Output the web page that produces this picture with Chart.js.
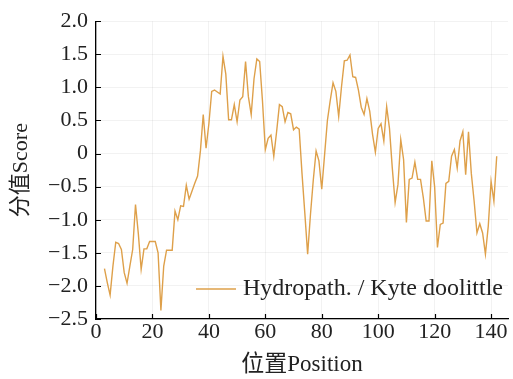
<!DOCTYPE html>
<html>
<head>
<meta charset="utf-8">
<script src="https://cdn.jsdelivr.net/npm/chart.js@4/dist/chart.umd.min.js"></script>
<style>
  html, body { margin: 0; padding: 0; background: #fff; }
  #wrap { width: 513px; height: 379px; }
</style>
</head>
<body>
<div id="wrap"><canvas id="myChart" width="513" height="379"></canvas></div>
<script>
// Kyte-Doolittle hydropathy values
const positions = [
  3, 4, 5, 6, 7, 8, 9, 10, 11, 12, 13, 14, 15, 16, 17, 18, 19, 20, 21, 22,
  23, 24, 25, 26, 27, 28, 29, 30, 31, 32, 33, 34, 35, 36, 37, 38, 39, 40, 41, 42,
  43, 44, 45, 46, 47, 48, 49, 50, 51, 52, 53, 54, 55, 56, 57, 58, 59, 60, 61, 62,
  63, 64, 65, 66, 67, 68, 69, 70, 71, 72, 73, 74, 75, 76, 77, 78, 79, 80, 81, 82,
  83, 84, 85, 86, 87, 88, 89, 90, 91, 92, 93, 94, 95, 96, 97, 98, 99, 100, 101, 102,
  103, 104, 105, 106, 107, 108, 109, 110, 111, 112, 113, 114, 115, 116, 117, 118, 119, 120, 121, 122,
  123, 124, 125, 126, 127, 128, 129, 130, 131, 132, 133, 134, 135, 136, 137, 138, 139, 140, 141, 142
];
const scores = [
  -1.74, -1.95, -2.14, -1.7, -1.34, -1.36, -1.45, -1.8, -1.96, -1.7, -1.45, -0.77, -1.21, -1.75, -1.44, -1.44, -1.33, -1.33, -1.33, -1.5,
  -2.37, -1.7, -1.46, -1.46, -1.46, -0.87, -1.0, -0.79, -0.8, -0.48, -0.69, -0.57, -0.45, -0.34, 0.04, 0.59, 0.08, 0.45, 0.94, 0.96,
  0.93, 0.9, 1.47, 1.2, 0.51, 0.51, 0.74, 0.48, 0.81, 0.86, 1.39, 0.86, 0.59, 1.13, 1.43, 1.39, 0.79, 0.06, 0.23, 0.28,
  -0.04, 0.33, 0.74, 0.71, 0.48, 0.62, 0.6, 0.36, 0.4, 0.37, -0.3, -0.9, -1.52, -0.92, -0.4, 0.04, -0.11, -0.54, -0.02, 0.5,
  0.8, 1.07, 0.94, 0.56, 1.01, 1.4, 1.41, 1.49, 1.16, 1.15, 0.96, 0.7, 0.59, 0.83, 0.64, 0.29, 0.02, 0.38, 0.45, 0.19,
  0.71, 0.38, -0.22, -0.74, -0.47, 0.21, -0.09, -1.04, -0.39, -0.37, -0.13, -0.39, -0.39, -0.67, -1.02, -1.02, -0.11, -0.5, -1.42, -1.07,
  -1.05, -0.45, -0.42, -0.04, 0.06, -0.22, 0.19, 0.33, -0.32, 0.33, -0.3, -0.72, -1.2, -1.06, -1.2, -1.52, -1.1, -0.42, -0.72, -0.04
];
const xTicks = [0, 20, 40, 60, 80, 100, 120, 140];
const yTicks = [-2.5, -2.0, -1.5, -1.0, -0.5, 0, 0.5, 1.0, 1.5, 2.0];
const seriesLabel = 'Hydropath. / Kyte doolittle';

const lineColor = '#dea04a';
const serif = '"Liberation Serif", "Times New Roman", serif';
const cjk = '"Liberation Serif", "Noto Sans CJK SC", serif';

function fmtY(v) {
  if (Math.abs(v) < 1e-9) return '0';
  return (v < 0 ? '\u2212' : '') + Math.abs(v).toFixed(1);
}

// inward tick marks
const inwardTicks = {
  id: 'inwardTicks',
  afterDatasetsDraw(chart) {
    const ctx = chart.ctx;
    const area = chart.chartArea;
    ctx.save();
    ctx.strokeStyle = '#000';
    ctx.lineWidth = 1.2;
    ctx.beginPath();
    chart.scales.x.ticks.forEach((t) => {
      const px = Math.round(chart.scales.x.getPixelForValue(t.value)) + 0.5;
      ctx.moveTo(px, area.bottom);
      ctx.lineTo(px, area.bottom - 5);
    });
    chart.scales.y.ticks.forEach((t) => {
      const py = Math.round(chart.scales.y.getPixelForValue(t.value)) + 0.5;
      ctx.moveTo(area.left, py);
      ctx.lineTo(area.left + 5, py);
    });
    ctx.stroke();
    ctx.restore();
  }
};

// legend inside the plot, lower right
const innerLegend = {
  id: 'innerLegend',
  afterDraw(chart) {
    const ctx = chart.ctx;
    const area = chart.chartArea;
    const y = area.bottom - 30;
    const x0 = area.left + 100;
    ctx.save();
    ctx.strokeStyle = lineColor;
    ctx.lineWidth = 1.6;
    ctx.beginPath();
    ctx.moveTo(x0, y);
    ctx.lineTo(x0 + 40, y);
    ctx.stroke();
    ctx.fillStyle = '#222';
    ctx.font = '24px ' + serif;
    ctx.textBaseline = 'middle';
    ctx.fillText(chart.data.datasets[0].label, x0 + 47, y);
    ctx.restore();
  }
};

const ctx = document.getElementById('myChart').getContext('2d');
const myChart = new Chart(ctx, {
  type: 'line',
  data: {
    datasets: [
      {
        label: seriesLabel,
        data: positions.map((p, i) => ({ x: p, y: scores[i] })),
        borderColor: lineColor,
        borderWidth: 1.4,
        pointRadius: 0,
        tension: 0,
        fill: false,
      },
    ],
  },
  options: {
    responsive: false,
    animation: false,
    layout: { padding: { top: 19, right: 5, left: 0, bottom: 0 } },
    plugins: {
      legend: { display: false },
      tooltip: { enabled: false },
    },
    scales: {
      x: {
        type: 'linear',
        min: 0,
        max: 146,
        afterBuildTicks: (s) => { s.ticks = xTicks.map((v) => ({ value: v })); },
        afterFit: (s) => { s.height = 60; },
        ticks: {
          color: '#222',
          font: { family: serif, size: 22 },
          padding: 0,
          maxRotation: 0,
        },
        grid: {
          color: 'rgba(0,0,0,0.05)',
          drawTicks: false,
        },
        border: { color: '#000', width: 1.3 },
        title: {
          display: true,
          text: '位置Position',
          color: '#222',
          font: { family: cjk, size: 23 },
          padding: { top: 0, bottom: 0 },
        },
      },
      y: {
        min: -2.5,
        max: 2.0,
        afterBuildTicks: (s) => { s.ticks = yTicks.map((v) => ({ value: v })); },
        afterFit: (s) => { s.width = 96; },
        ticks: {
          color: '#222',
          font: { family: serif, size: 22 },
          padding: 8,
          callback: (v) => fmtY(v),
        },
        grid: {
          color: 'rgba(0,0,0,0.05)',
          drawTicks: false,
        },
        border: { color: '#000', width: 1.3 },
        title: {
          display: true,
          text: '分值Score',
          color: '#222',
          font: { family: cjk, size: 22 },
          padding: { top: 8, bottom: 4 },
        },
      },
    },
  },
  plugins: [inwardTicks, innerLegend],
});
</script>
</body>
</html>
